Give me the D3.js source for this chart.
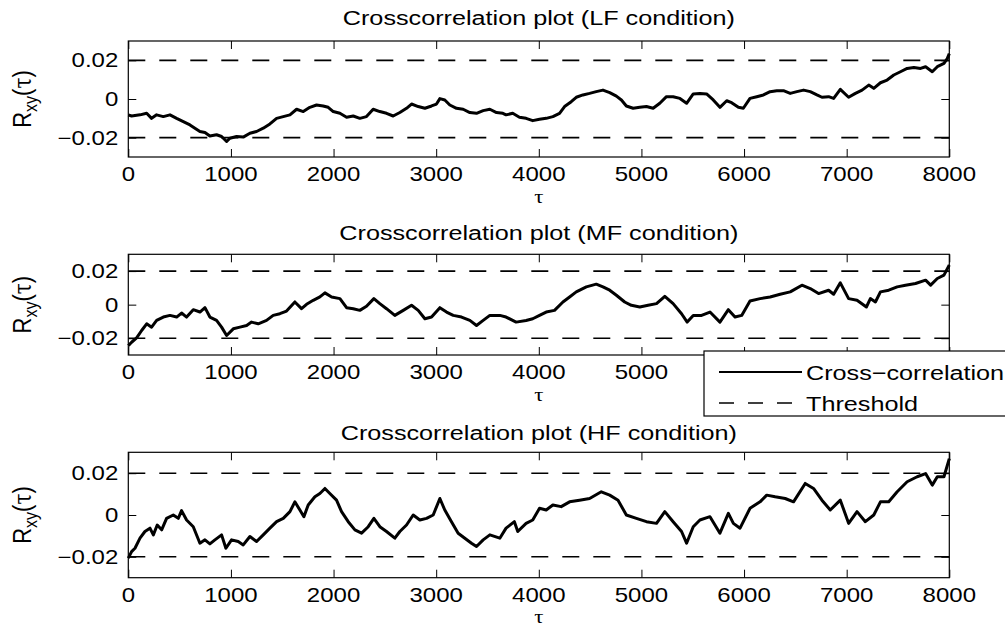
<!DOCTYPE html>
<html>
<head>
<meta charset="utf-8">
<script src="https://cdn.jsdelivr.net/npm/d3@7"></script>
<style>
  html, body { margin: 0; padding: 0; background: #fff; }
  svg { display: block; }
  text { font-family: "Liberation Sans", Arial, Helvetica, sans-serif; fill: #000; }
</style>
</head>
<body>
<svg id="chart" width="1005" height="630"></svg>
<script>
// ---------------- data ----------------
const titles = ["Crosscorrelation plot (LF condition)", "Crosscorrelation plot (MF condition)", "Crosscorrelation plot (HF condition)"];
const xTicks = [0, 1000, 2000, 3000, 4000, 5000, 6000, 7000, 8000];
const yTicks = [-0.02, 0, 0.02];
const thresholds = [0.02, -0.02];
const legendLabels = ["Cross\u2212correlation", "Threshold"];

const tauLF = [0,32,114,179,227,276,341,406,471,536,601,649,698,747,795,860,909,958,990,1055,1120,1185,1250,1315,1380,1445,1510,1575,1640,1705,1769,1834,1899,1948,1997,2062,2127,2192,2256,2321,2386,2451,2516,2581,2646,2711,2760,2825,2890,2955,3003,3036,3084,3133,3198,3263,3328,3393,3458,3523,3588,3650,3681,3746,3811,3876,3941,4007,4072,4137,4202,4251,4316,4365,4430,4495,4560,4625,4691,4756,4805,4853,4919,4984,5049,5114,5179,5244,5309,5375,5440,5505,5570,5635,5700,5765,5831,5879,5945,5993,6058,6124,6189,6254,6319,6384,6450,6515,6580,6645,6710,6759,6824,6873,6938,7019,7085,7150,7215,7264,7329,7394,7459,7524,7589,7655,7720,7769,7834,7883,7948,7980,8000];
const valLF = [-0.0082,-0.0088,-0.0082,-0.0074,-0.0100,-0.0082,-0.0091,-0.0082,-0.0100,-0.0117,-0.0134,-0.0151,-0.0168,-0.0173,-0.0191,-0.0185,-0.0194,-0.0220,-0.0203,-0.0194,-0.0197,-0.0177,-0.0168,-0.0151,-0.0129,-0.0100,-0.0091,-0.0082,-0.0053,-0.0065,-0.0043,-0.0031,-0.0036,-0.0043,-0.0065,-0.0074,-0.0094,-0.0088,-0.0100,-0.0091,-0.0053,-0.0065,-0.0074,-0.0088,-0.0070,-0.0048,-0.0026,-0.0039,-0.0048,-0.0036,-0.0026,0.0002,-0.0005,-0.0031,-0.0048,-0.0053,-0.0070,-0.0074,-0.0060,-0.0053,-0.0070,-0.0074,-0.0082,-0.0074,-0.0094,-0.0100,-0.0112,-0.0105,-0.0100,-0.0091,-0.0074,-0.0039,-0.0014,0.0009,0.0021,0.0029,0.0038,0.0046,0.0033,0.0015,-0.0005,-0.0036,-0.0048,-0.0043,-0.0039,-0.0048,-0.0022,0.0012,0.0012,0.0003,-0.0022,0.0026,0.0029,0.0026,-0.0005,-0.0043,-0.0009,-0.0019,-0.0043,-0.0048,0.0003,0.0012,0.0021,0.0038,0.0043,0.0043,0.0029,0.0038,0.0046,0.0038,0.0021,0.0009,0.0012,0.0003,0.0050,0.0009,0.0029,0.0046,0.0072,0.0055,0.0084,0.0098,0.0124,0.0141,0.0158,0.0163,0.0158,0.0167,0.0141,0.0167,0.0184,0.0209,0.0235];

const tauMF = [0,32,81,130,179,227,276,341,406,471,519,568,633,698,747,795,860,909,958,1023,1088,1153,1201,1266,1347,1412,1477,1542,1623,1688,1737,1802,1867,1916,1981,2062,2127,2192,2256,2321,2393,2451,2516,2597,2679,2760,2825,2890,2955,3036,3101,3166,3247,3328,3393,3458,3523,3620,3681,3779,3876,3941,4007,4072,4153,4235,4300,4365,4463,4560,4625,4691,4756,4837,4902,4984,5065,5147,5228,5309,5391,5446,5505,5586,5668,5765,5847,5912,5977,6058,6156,6254,6352,6450,6564,6645,6726,6824,6873,6938,7019,7101,7192,7231,7280,7329,7410,7492,7573,7671,7769,7818,7883,7948,8000];
const valMF = [-0.0244,-0.0224,-0.0198,-0.0154,-0.0114,-0.0134,-0.0094,-0.0074,-0.0064,-0.0074,-0.0050,-0.0074,-0.0030,-0.0044,-0.0018,-0.0074,-0.0094,-0.0134,-0.0184,-0.0144,-0.0134,-0.0124,-0.0104,-0.0114,-0.0094,-0.0064,-0.0054,-0.0038,0.0016,-0.0024,0.0002,0.0026,0.0046,0.0070,0.0046,0.0036,-0.0018,-0.0024,-0.0034,-0.0010,0.0036,0.0006,-0.0024,-0.0064,-0.0034,-0.0004,-0.0034,-0.0084,-0.0074,-0.0018,-0.0044,-0.0064,-0.0074,-0.0094,-0.0124,-0.0094,-0.0064,-0.0064,-0.0074,-0.0104,-0.0094,-0.0084,-0.0064,-0.0044,-0.0034,0.0016,0.0046,0.0076,0.0106,0.0122,0.0106,0.0086,0.0056,0.0016,-0.0004,-0.0014,-0.0004,0.0006,0.0050,0.0006,-0.0054,-0.0104,-0.0064,-0.0064,-0.0044,-0.0104,-0.0030,-0.0074,-0.0064,0.0022,0.0036,0.0046,0.0062,0.0076,0.0116,0.0096,0.0066,0.0086,0.0062,0.0130,0.0036,0.0026,-0.0014,0.0036,0.0016,0.0076,0.0086,0.0106,0.0116,0.0126,0.0146,0.0116,0.0156,0.0176,0.0236];

const tauHF = [0,32,65,114,162,211,244,282,325,373,438,487,519,568,633,698,747,795,844,909,951,1006,1071,1120,1185,1250,1315,1380,1445,1510,1575,1623,1672,1711,1753,1818,1867,1916,1964,2029,2078,2143,2208,2273,2338,2393,2451,2516,2597,2646,2711,2776,2841,2906,2971,3036,3084,3149,3214,3279,3344,3393,3458,3523,3620,3681,3762,3795,3876,3941,4007,4072,4137,4218,4300,4397,4495,4609,4691,4772,4853,4951,5049,5147,5228,5309,5391,5440,5505,5570,5668,5765,5847,5896,5961,6058,6156,6221,6303,6401,6482,6596,6677,6759,6840,6938,7019,7101,7182,7264,7329,7410,7492,7589,7687,7769,7834,7883,7948,8000];
const valHF = [-0.0206,-0.0175,-0.0159,-0.0111,-0.0079,-0.0063,-0.0095,-0.0048,-0.0071,-0.0016,0.0000,-0.0016,0.0021,-0.0024,-0.0056,-0.0135,-0.0119,-0.0138,-0.0119,-0.0095,-0.0159,-0.0119,-0.0127,-0.0143,-0.0103,-0.0127,-0.0095,-0.0063,-0.0032,-0.0016,0.0016,0.0063,0.0024,-0.0008,0.0048,0.0087,0.0103,0.0127,0.0103,0.0071,0.0016,-0.0032,-0.0071,-0.0087,-0.0056,-0.0016,-0.0056,-0.0079,-0.0111,-0.0079,-0.0048,0.0000,-0.0024,-0.0016,0.0000,0.0079,0.0024,-0.0032,-0.0087,-0.0111,-0.0135,-0.0151,-0.0119,-0.0095,-0.0111,-0.0063,-0.0032,-0.0079,-0.0040,-0.0024,0.0032,0.0024,0.0048,0.0040,0.0063,0.0071,0.0079,0.0111,0.0095,0.0071,0.0000,-0.0016,-0.0032,-0.0040,0.0016,-0.0032,-0.0079,-0.0135,-0.0056,-0.0024,-0.0008,-0.0087,0.0008,-0.0040,-0.0063,0.0032,0.0063,0.0095,0.0087,0.0079,0.0063,0.0151,0.0127,0.0071,0.0024,0.0071,-0.0040,0.0016,-0.0032,0.0000,0.0063,0.0063,0.0111,0.0159,0.0183,0.0198,0.0143,0.0183,0.0183,0.0270];

const seriesTau = [tauLF, tauMF, tauHF];
const seriesVal = [valLF, valMF, valHF];

// ---------------- layout ----------------
const SX = 1.2; // horizontal text stretch of the original figure
const left = 128.3, right = 949.3;
const panels = [
  { top: 41, bottom: 157, titleY: 24.5 },
  { top: 254.3, bottom: 355, titleY: 239.5 },
  { top: 452.3, bottom: 577.7, titleY: 439.5 }
];
const tickFont = 20, titleFont = 21, legendFont = 21;
const tickLen = 8;
const dash = "17,14";
const legendBox = { x: 704, y: 351, w: 320, h: 65 };

const svg = d3.select("#chart");

function addText(g, x, y, str, size, anchor) {
  return g.append("text")
    .attr("transform", `translate(${x},${y}) scale(${SX},1)`)
    .attr("text-anchor", anchor)
    .style("font-size", size + "px")
    .text(str);
}

const x = d3.scaleLinear().domain([0, 8000]).range([left, right]);

panels.forEach((p, i) => {
  const y = d3.scaleLinear().domain([-0.03, 0.03]).range([p.bottom, p.top]);
  const g = svg.append("g");

  // threshold lines
  thresholds.forEach(th => {
    g.append("line")
      .attr("x1", x(0)).attr("x2", x(8000))
      .attr("y1", y(th)).attr("y2", y(th))
      .attr("stroke", "#000").attr("stroke-width", 1.6)
      .attr("stroke-dasharray", dash);
  });

  // curve
  const data = seriesTau[i].map((t, k) => [t, seriesVal[i][k]]);
  g.append("path")
    .datum(data)
    .attr("fill", "none")
    .attr("stroke", "#000")
    .attr("stroke-width", 3)
    .attr("stroke-linejoin", "round")
    .attr("d", d3.line().x(d => x(d[0])).y(d => y(d[1])));

  // axes (ticks inward on all four sides)
  const axB = d3.axisBottom(x).tickValues(xTicks).tickSize(-tickLen).tickFormat("");
  const axT = d3.axisTop(x).tickValues(xTicks).tickSize(-tickLen).tickFormat("");
  const axL = d3.axisLeft(y).tickValues(yTicks).tickSize(-tickLen).tickFormat("");
  const axR = d3.axisRight(y).tickValues(yTicks).tickSize(-tickLen).tickFormat("");
  [[axB, `translate(0,${p.bottom})`], [axT, `translate(0,${p.top})`],
   [axL, `translate(${left},0)`], [axR, `translate(${right},0)`]].forEach(([ax, tr]) => {
    const a = g.append("g").attr("transform", tr).call(ax);
    a.select(".domain").remove();
    a.selectAll("line").attr("stroke", "#000").attr("stroke-width", 1);
  });
  g.append("rect")
    .attr("x", left).attr("y", p.top)
    .attr("width", right - left).attr("height", p.bottom - p.top)
    .attr("fill", "none").attr("stroke", "#000").attr("stroke-width", 1.2);

  // tick labels (those hidden behind the legend box are not drawn)
  xTicks.forEach(v => {
    const lx = x(v);
    const hidden = (p.bottom + 25 > legendBox.y && p.bottom + 10 < legendBox.y + legendBox.h && lx - 28 > legendBox.x);
    if (!hidden) addText(g, lx, p.bottom + 24, String(v), tickFont, "middle");
  });
  yTicks.forEach(v => {
    const s = v === 0 ? "0" : (v < 0 ? "\u2212" : "") + Math.abs(v).toFixed(2);
    addText(g, left - 10, y(v) + 7, s, tickFont, "end");
  });

  // x label
  g.append("text")
    .attr("transform", `translate(${(left + right) / 2},${p.bottom + 45.5}) scale(${SX},1)`)
    .attr("text-anchor", "middle")
    .style("font-family", "'Liberation Serif', 'DejaVu Serif', serif")
    .style("font-size", "19px")
    .text("\u03c4");

  // y label
  const yl = g.append("text")
    .attr("transform", `translate(31,${(p.top + p.bottom) / 2}) scale(${SX},1) rotate(-90)`)
    .attr("text-anchor", "middle")
    .style("font-size", "22px");
  yl.append("tspan").text("R");
  yl.append("tspan").attr("dy", 5).style("font-size", "16px").text("xy");
  yl.append("tspan").attr("dy", -5).text("(");
  yl.append("tspan").style("font-family", "'DejaVu Serif', 'Liberation Serif', serif").style("font-size", "20px").text("\u03c4");
  yl.append("tspan").text(")");

  // title
  addText(g, (left + right) / 2, p.titleY, titles[i], titleFont, "middle");
});

// legend
const lg = svg.append("g");
lg.append("rect")
  .attr("x", legendBox.x).attr("y", legendBox.y).attr("width", legendBox.w).attr("height", legendBox.h)
  .attr("fill", "#fff").attr("stroke", "#000").attr("stroke-width", 1.2);
const legY = [372, 403];
legendLabels.forEach((lab, k) => {
  lg.append("line")
    .attr("x1", 719).attr("x2", 802)
    .attr("y1", legY[k]).attr("y2", legY[k])
    .attr("stroke", "#000").attr("stroke-width", k === 0 ? 2 : 1.6)
    .attr("stroke-dasharray", k === 0 ? null : "15,14");
  addText(lg, 806, legY[k] + 7.5, lab, legendFont, "start");
});
</script>
</body>
</html>
